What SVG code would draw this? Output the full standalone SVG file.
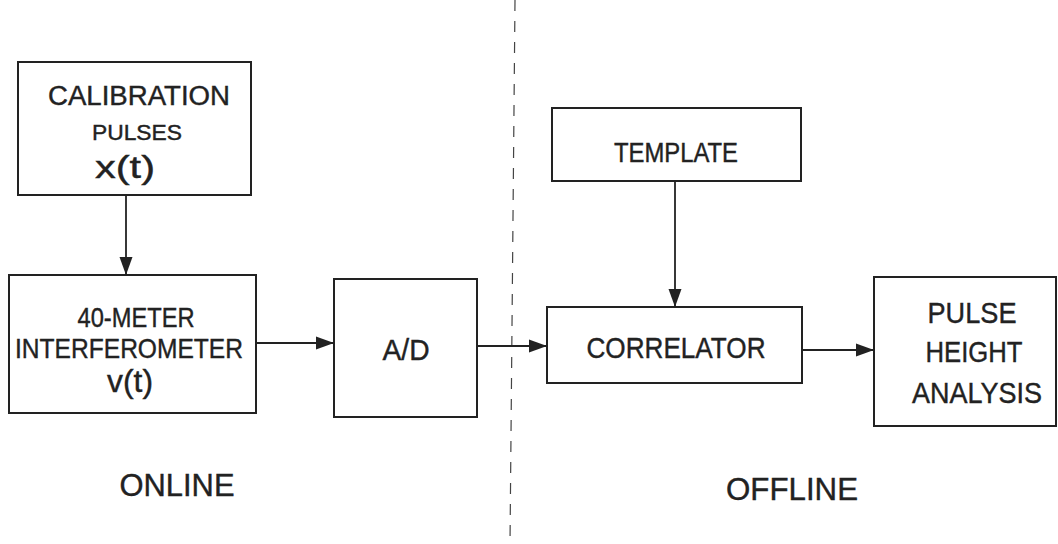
<svg xmlns="http://www.w3.org/2000/svg" width="1058" height="544" viewBox="0 0 1058 544">
<style>
.box{fill:#fff;stroke:#222;stroke-width:2}
.t{font-family:"Liberation Sans",Arial,sans-serif;fill:#222;stroke:#222;stroke-width:0.4;text-anchor:middle}
.c{stroke:#222;stroke-width:1.8;fill:none}
.d{stroke:#444;stroke-width:1.2;stroke-dasharray:11 10;fill:none}
</style>
<defs>
<marker id="ah" markerUnits="userSpaceOnUse" markerWidth="20" markerHeight="14" refX="18" refY="7" orient="auto">
<path d="M0,0.5 L18,7 L0,13.5 Z" fill="#222"/>
</marker>
</defs>
<rect width="1058" height="544" fill="#fff"/>
<line class="d" x1="515" y1="0" x2="510" y2="544"/>
<g id="calibration">
<rect class="box" x="18" y="62" width="233" height="133"/>
<text class="t" x="139" y="105" font-size="27" textLength="182" lengthAdjust="spacingAndGlyphs">CALIBRATION</text>
<text class="t" x="137" y="140" font-size="22" textLength="90" lengthAdjust="spacingAndGlyphs">PULSES</text>
<text class="t" x="125" y="178" font-size="32" textLength="60" lengthAdjust="spacingAndGlyphs">x(t)</text>
</g>
<g id="interferometer">
<rect class="box" x="9" y="275" width="247" height="138"/>
<text class="t" x="136" y="327" font-size="28" textLength="117" lengthAdjust="spacingAndGlyphs">40-METER</text>
<text class="t" x="129" y="358" font-size="28" textLength="228" lengthAdjust="spacingAndGlyphs">INTERFEROMETER</text>
<text class="t" x="130" y="392" font-size="32" textLength="46" lengthAdjust="spacingAndGlyphs">v(t)</text>
</g>
<g id="ad">
<rect class="box" x="334" y="279" width="143" height="138"/>
<text class="t" x="406" y="360" font-size="29" textLength="47" lengthAdjust="spacingAndGlyphs">A/D</text>
</g>
<g id="template">
<rect class="box" x="552" y="108" width="249" height="73"/>
<text class="t" x="676" y="162" font-size="27" textLength="124" lengthAdjust="spacingAndGlyphs">TEMPLATE</text>
</g>
<g id="correlator">
<rect class="box" x="547" y="307" width="255" height="76"/>
<text class="t" x="676" y="358" font-size="29" textLength="179" lengthAdjust="spacingAndGlyphs">CORRELATOR</text>
</g>
<g id="pulseheight">
<rect class="box" x="874" y="277" width="182" height="149"/>
<text class="t" x="972" y="323" font-size="30" textLength="89" lengthAdjust="spacingAndGlyphs">PULSE</text>
<text class="t" x="974" y="362" font-size="30" textLength="97" lengthAdjust="spacingAndGlyphs">HEIGHT</text>
<text class="t" x="977" y="403" font-size="30" textLength="130" lengthAdjust="spacingAndGlyphs">ANALYSIS</text>
</g>
<g id="labels">
<text class="t" x="177" y="496" font-size="32" textLength="115" lengthAdjust="spacingAndGlyphs">ONLINE</text>
<text class="t" x="792" y="500" font-size="32" textLength="132" lengthAdjust="spacingAndGlyphs">OFFLINE</text>
</g>
<g id="connectors">
<line class="c" x1="126" y1="195" x2="126" y2="275" marker-end="url(#ah)"/>
<line class="c" x1="256" y1="343" x2="334" y2="343" marker-end="url(#ah)"/>
<line class="c" x1="477" y1="346" x2="547" y2="346" marker-end="url(#ah)"/>
<line class="c" x1="675" y1="181" x2="675" y2="307" marker-end="url(#ah)"/>
<line class="c" x1="802" y1="350" x2="874" y2="350" marker-end="url(#ah)"/>
</g>
</svg>
